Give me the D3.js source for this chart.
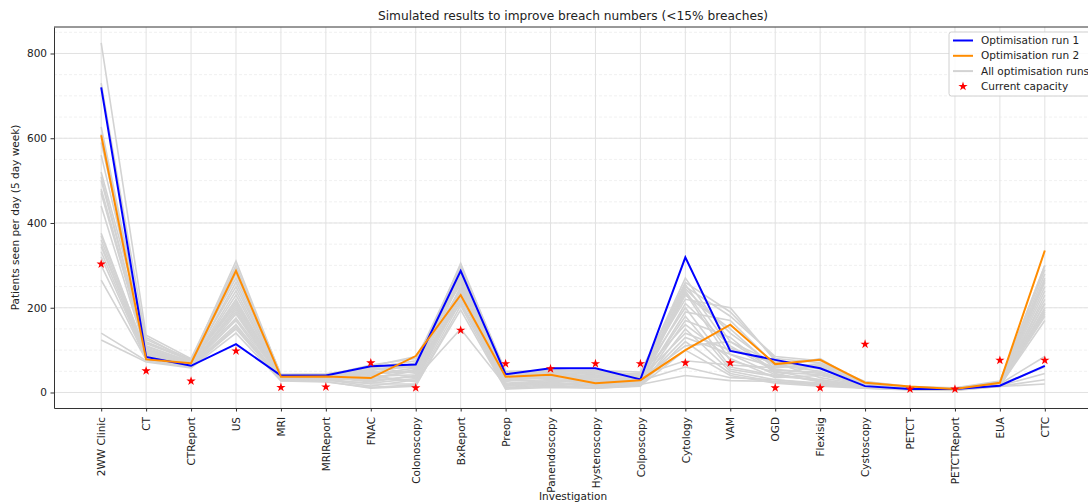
<!DOCTYPE html>
<html>
<head>
<meta charset="utf-8">
<script src="https://cdn.jsdelivr.net/npm/d3@7"></script>
<style>
  body { margin: 0; background: #fff; }
  svg { font-family: "DejaVu Sans", sans-serif; }
</style>
</head>
<body>
<svg id="chart"></svg>
<script>
// Data
const investigations = ["2WW Clinic", "CT", "CTReport", "US", "MRI", "MRIReport", "FNAC",
  "Colonoscopy", "BxReport", "Preop", "Panendoscopy", "Hysteroscopy", "Colposcopy",
  "Cytology", "VAM", "OGD", "Flexisig", "Cystoscopy", "PETCT", "PETCTReport", "EUA", "CTC"];

const run1 = [720, 84, 63, 114, 40, 40, 62, 66, 287, 43, 57, 57, 31, 319, 98, 77, 57, 15, 8, 8, 16, 63];
const run2 = [607, 78, 69, 287, 37, 38, 34, 86, 230, 37, 42, 22, 29, 100, 160, 67, 77, 23, 14, 8, 23, 335];
const currentCapacity = [303, 51, 27, 98, 12, 13, 70, 11, 147, 68, 56, 68, 68, 70, 70, 11, 11, 114, 8, 8, 76, 76];

// all the other optimisation runs (grey)
const allRuns = [
  [825, 135, 80, 300, 42, 40, 55, 60, 305, 45, 50, 48, 40, 270, 120, 70, 60, 22, 12, 10, 25, 300],
  [730, 120, 75, 310, 40, 38, 60, 45, 290, 40, 45, 30, 35, 250, 180, 85, 75, 20, 10, 9, 22, 280],
  [627, 110, 72, 280, 38, 42, 45, 70, 280, 38, 40, 25, 30, 240, 90, 60, 80, 18, 11, 8, 20, 260],
  [509, 105, 70, 260, 36, 35, 30, 55, 270, 35, 50, 35, 28, 230, 150, 55, 45, 15, 9, 7, 18, 240],
  [476, 100, 68, 240, 35, 40, 65, 80, 260, 30, 35, 40, 45, 220, 200, 75, 55, 25, 13, 10, 24, 220],
  [440, 95, 66, 220, 34, 36, 25, 40, 250, 42, 30, 20, 25, 210, 110, 50, 30, 16, 8, 7, 19, 200],
  [376, 92, 70, 210, 37, 30, 15, 30, 240, 25, 55, 45, 38, 200, 60, 40, 65, 19, 10, 9, 21, 190],
  [360, 90, 65, 200, 33, 38, 50, 35, 230, 20, 25, 30, 20, 190, 170, 65, 50, 14, 9, 8, 17, 180],
  [344, 88, 62, 195, 30, 28, 40, 25, 225, 15, 20, 15, 18, 170, 130, 45, 25, 12, 7, 6, 16, 170],
  [332, 85, 60, 185, 32, 34, 35, 50, 220, 48, 42, 50, 42, 160, 80, 35, 40, 20, 11, 9, 23, 210],
  [300, 80, 64, 170, 28, 32, 20, 20, 215, 12, 18, 10, 15, 150, 50, 30, 20, 10, 6, 5, 14, 230],
  [265, 78, 63, 160, 31, 30, 55, 65, 210, 28, 38, 35, 33, 140, 100, 70, 35, 17, 10, 8, 20, 250],
  [140, 75, 60, 150, 29, 26, 10, 15, 205, 10, 15, 12, 17, 120, 45, 25, 18, 11, 8, 7, 15, 30],
  [124, 72, 58, 140, 27, 25, 12, 18, 195, 8, 12, 10, 16, 100, 40, 22, 15, 10, 7, 6, 14, 20],
  [560, 115, 76, 290, 43, 44, 58, 75, 300, 50, 52, 52, 48, 260, 190, 80, 70, 26, 14, 11, 27, 290],
  [590, 125, 78, 270, 41, 39, 48, 48, 285, 32, 44, 38, 36, 245, 140, 62, 58, 23, 12, 10, 24, 270],
  [520, 130, 74, 250, 39, 37, 42, 58, 275, 36, 33, 28, 30, 235, 75, 48, 42, 18, 10, 8, 22, 265],
  [470, 98, 67, 230, 36, 33, 38, 42, 265, 22, 28, 22, 24, 180, 55, 38, 30, 15, 9, 7, 18, 210],
  [350, 86, 69, 175, 34, 35, 28, 38, 245, 18, 24, 18, 22, 130, 90, 42, 28, 13, 8, 7, 17, 195],
  [320, 82, 61, 155, 30, 31, 33, 28, 235, 27, 30, 26, 28, 60, 35, 30, 22, 12, 7, 6, 15, 185],
  [480, 102, 71, 205, 38, 41, 62, 85, 255, 44, 48, 42, 40, 75, 65, 58, 68, 21, 11, 9, 20, 85],
  [500, 108, 73, 215, 35, 36, 52, 62, 245, 34, 36, 32, 32, 110, 120, 52, 48, 16, 9, 8, 19, 60],
  [610, 118, 77, 295, 40, 40, 44, 52, 295, 39, 46, 44, 44, 255, 105, 68, 62, 20, 11, 9, 23, 300],
  [370, 94, 66, 190, 33, 29, 22, 33, 150, 16, 22, 16, 19, 40, 28, 26, 20, 11, 7, 6, 16, 45]
];

const yTicks = [0, 200, 400, 600, 800];
const yMinorTicks = d3.range(0, 901, 50);

const legendItems = [
  { label: "Optimisation run 1", color: "#0000ff", type: "line" },
  { label: "Optimisation run 2", color: "#ff8c00", type: "line" },
  { label: "All optimisation runs", color: "#d3d3d3", type: "line" },
  { label: "Current capacity", color: "#ff0000", type: "star" }
];

// The svg
const width = 1088, height = 504;
const plot = { left: 54, top: 27, right: 1092, bottom: 408 };

const svg = d3.select("#chart")
  .attr("width", width)
  .attr("height", height);

// scales
const x = d3.scalePoint()
  .domain(investigations)
  .range([plot.left, plot.right])
  .padding(1.05);

const y = d3.scaleLinear()
  .domain([-36.6, 862.5])
  .range([plot.bottom, plot.top]);

// grid
const grid = svg.append("g").attr("class", "grid");

grid.selectAll(".minor")
  .data(yMinorTicks.filter(d => y(d) > plot.top))
  .join("line")
  .attr("x1", plot.left).attr("x2", plot.right)
  .attr("y1", d => y(d)).attr("y2", d => y(d))
  .attr("stroke", "#ececec")
  .attr("stroke-width", 0.8)
  .attr("stroke-dasharray", "3,2");

grid.selectAll(".major")
  .data(yTicks)
  .join("line")
  .attr("x1", plot.left).attr("x2", plot.right)
  .attr("y1", d => y(d)).attr("y2", d => y(d))
  .attr("stroke", "#e2e2e2")
  .attr("stroke-width", 1);

grid.selectAll(".vgrid")
  .data(investigations)
  .join("line")
  .attr("x1", d => x(d)).attr("x2", d => x(d))
  .attr("y1", plot.top).attr("y2", plot.bottom)
  .attr("stroke", "#e2e2e2")
  .attr("stroke-width", 1);

// lines
const line = d3.line()
  .x((d, i) => x(investigations[i]))
  .y(d => y(d));

svg.append("g")
  .attr("class", "all_runs")
  .selectAll("path")
  .data(allRuns)
  .join("path")
  .attr("d", line)
  .attr("fill", "none")
  .attr("stroke", "#d3d3d3")
  .attr("stroke-width", 1.6);

svg.append("path")
  .attr("d", line(run1))
  .attr("fill", "none")
  .attr("stroke", "#0000ff")
  .attr("stroke-width", 2);

svg.append("path")
  .attr("d", line(run2))
  .attr("fill", "none")
  .attr("stroke", "#ff8c00")
  .attr("stroke-width", 2);

const star = d3.symbol().type(d3.symbolStar).size(27);

svg.append("g")
  .selectAll("path")
  .data(currentCapacity)
  .join("path")
  .attr("d", star)
  .attr("transform", (d, i) => `translate(${x(investigations[i])},${y(d)})`)
  .attr("fill", "#ff0000");

// axes
const yAxis = svg.append("g")
  .attr("transform", `translate(${plot.left},0)`)
  .call(d3.axisLeft(y).tickValues(yTicks).tickSize(3.5).tickPadding(3.5).tickSizeOuter(0));

const xAxis = svg.append("g")
  .attr("transform", `translate(0,${plot.bottom})`)
  .call(d3.axisBottom(x).tickSize(3.5).tickSizeOuter(0));

xAxis.selectAll("text")
  .attr("transform", "rotate(-90)")
  .attr("x", -9)
  .attr("y", 0)
  .attr("dy", "0.35em")
  .style("text-anchor", "end");

[yAxis, xAxis].forEach(a => {
  a.selectAll("text").attr("fill", "#222").style("font-size", "10.5px").style("font-family", "DejaVu Sans");
  a.selectAll(".tick line").attr("stroke", "#333");
  a.select(".domain").attr("stroke", "#333");
});

// top spine
svg.append("line")
  .attr("x1", plot.left).attr("x2", plot.right)
  .attr("y1", plot.top).attr("y2", plot.top)
  .attr("stroke", "#333");

// labels
svg.append("text")
  .attr("x", (plot.left + plot.right) / 2)
  .attr("y", 20)
  .attr("text-anchor", "middle")
  .style("font-size", "12.2px")
  .attr("fill", "#222")
  .text("Simulated results to improve breach numbers (<15% breaches)");

svg.append("text")
  .attr("transform", `translate(19,${(plot.top + plot.bottom) / 2}) rotate(-90)`)
  .attr("text-anchor", "middle")
  .style("font-size", "10.5px")
  .attr("fill", "#222")
  .text("Patients seen per day (5 day week)");

svg.append("text")
  .attr("x", (plot.left + plot.right) / 2)
  .attr("y", 500)
  .attr("text-anchor", "middle")
  .style("font-size", "10.5px")
  .attr("fill", "#222")
  .text("Investigation");

// legend
const legend = svg.append("g").attr("transform", "translate(949,32)");

legend.append("rect")
  .attr("width", 150).attr("height", 64)
  .attr("rx", 2.5)
  .attr("fill", "#fff")
  .attr("fill-opacity", 0.85)
  .attr("stroke", "#d0d0d0");

const items = legend.selectAll(".item")
  .data(legendItems)
  .join("g")
  .attr("transform", (d, i) => `translate(0,${8.5 + i * 15.3})`);

items.filter(d => d.type === "line")
  .append("line")
  .attr("x1", 4).attr("x2", 24)
  .attr("stroke", d => d.color)
  .attr("stroke-width", 2);

items.filter(d => d.type === "star")
  .append("path")
  .attr("d", star)
  .attr("transform", "translate(14,0)")
  .attr("fill", d => d.color);

items.append("text")
  .attr("x", 32)
  .attr("dy", "0.35em")
  .style("font-size", "10.5px")
  .attr("fill", "#222")
  .text(d => d.label);
</script>
</body>
</html>
